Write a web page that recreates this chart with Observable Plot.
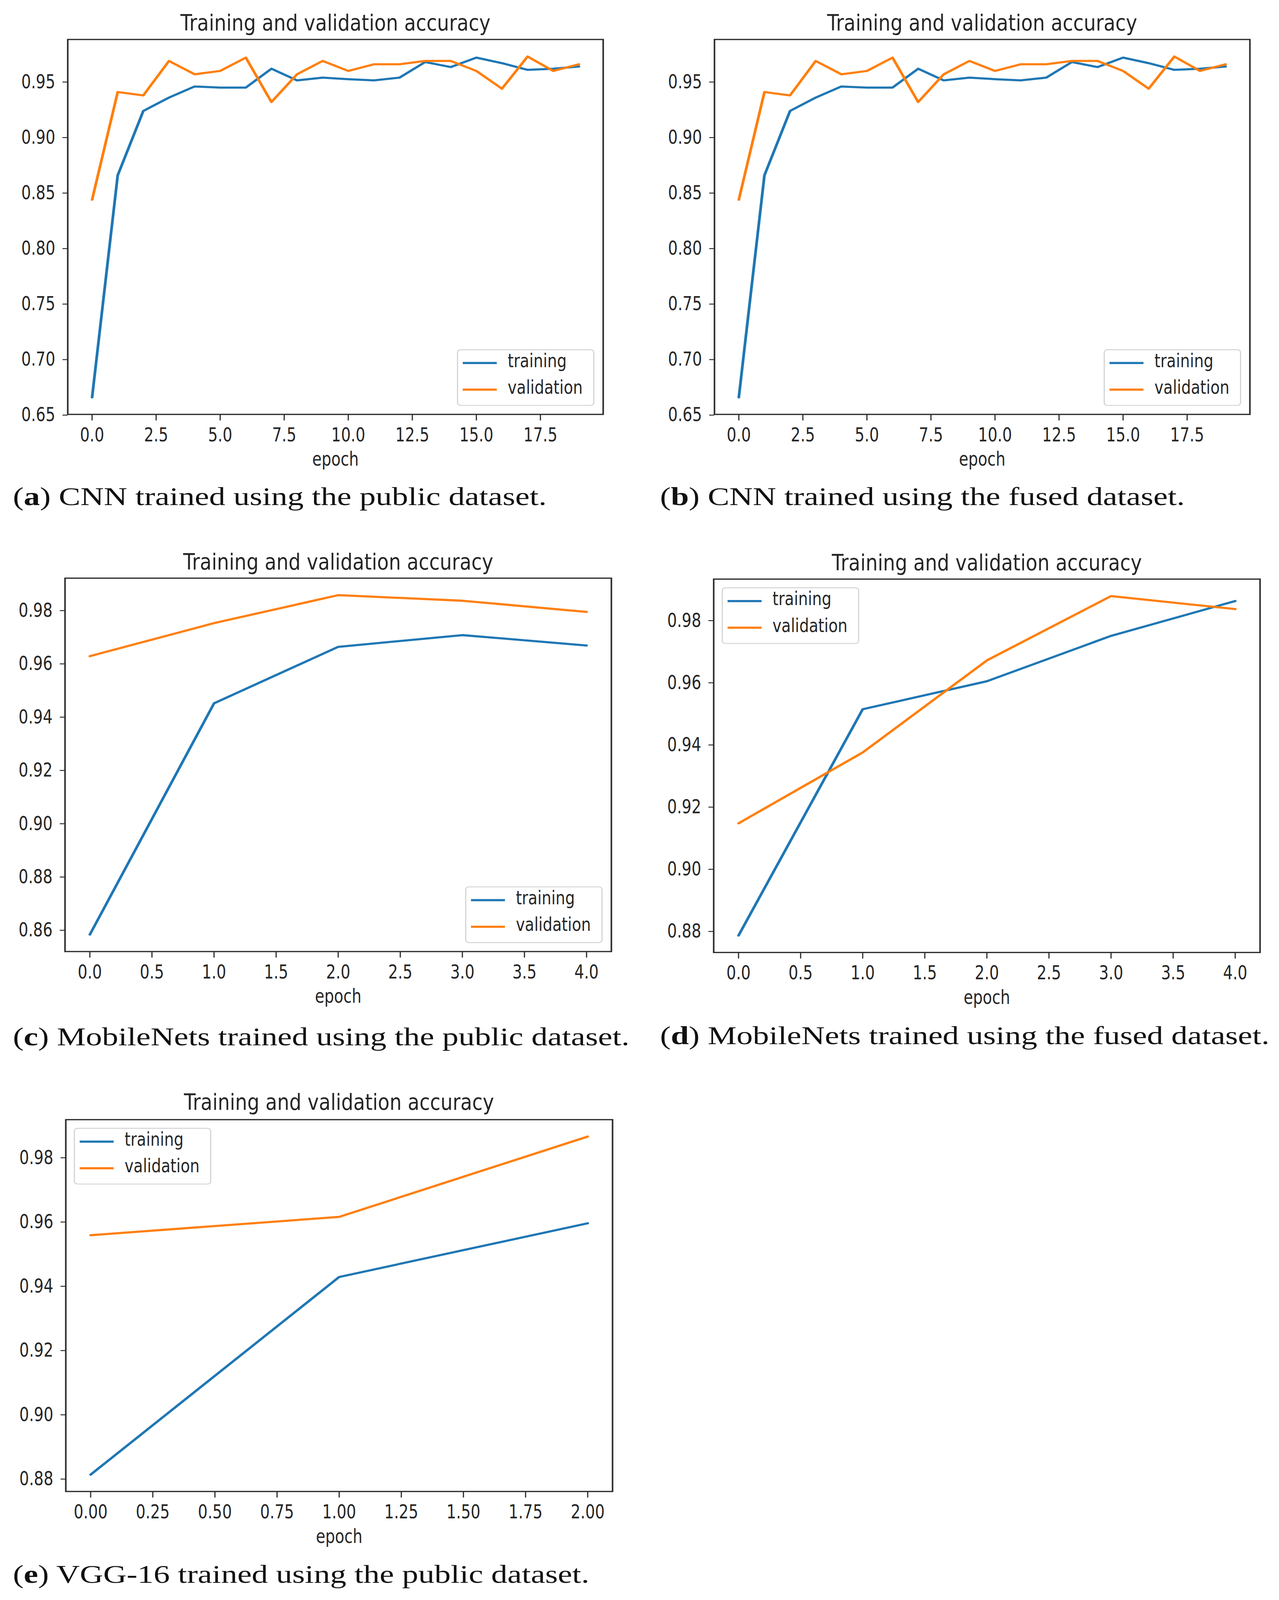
<!DOCTYPE html>
<html>
<head>
<meta charset="utf-8">
<script src="https://cdn.jsdelivr.net/npm/d3@7"></script>
<script src="https://cdn.jsdelivr.net/npm/@observablehq/plot@0.6"></script>
<style>
  html, body { margin: 0; padding: 0; background: #fff; overflow: hidden; }
  #page { position: relative; width: 3275px; height: 5168px; overflow: hidden; background: #fff; transform-origin: 0 0; }
  .title { position: absolute; white-space: nowrap; font-family: "DejaVu Sans", sans-serif; font-size: 72px; line-height: 1.3; color: #262626; transform: translateX(-50%) scaleX(0.68); }
  .caption { position: absolute; white-space: nowrap; font-family: "Liberation Serif", "DejaVu Serif", serif; font-size: 83px; line-height: 1.3; color: #111; }
  .legend { position: absolute; box-sizing: border-box; border: 3px solid #d4d4d4; border-radius: 10px; background: rgba(255,255,255,0.85); }
  .legend .sw { position: absolute; left: 12px; width: 87px; height: 7px; }
  .legend .lab { position: absolute; left: 127px; white-space: nowrap; font-family: "DejaVu Sans", sans-serif; font-size: 60px; line-height: 1.3; color: #262626; transform: scaleX(0.65); transform-origin: left center; }
  #page > svg { position: absolute; }
</style>
</head>
<body>
<div id="page"></div>
<script>
// ---------- data ----------
const seriesNames = ["training", "validation"];
const seriesColors = ["#1f77b4", "#ff7f0e"];
const titleText = "Training and validation accuracy";
const xLabel = "epoch";

// (a) CNN, public dataset
const trainA = [0.666, 0.866, 0.924, 0.936, 0.946, 0.945, 0.945, 0.962, 0.9515, 0.954, 0.9526, 0.9515, 0.954, 0.968, 0.9635, 0.972, 0.967, 0.961, 0.962, 0.964];
const valA   = [0.844, 0.941, 0.938, 0.969, 0.957, 0.960, 0.972, 0.932, 0.957, 0.969, 0.960, 0.966, 0.966, 0.969, 0.969, 0.960, 0.944, 0.973, 0.960, 0.966];
// (b) CNN, fused dataset
const trainB = [0.666, 0.866, 0.924, 0.936, 0.946, 0.945, 0.945, 0.962, 0.9515, 0.954, 0.9526, 0.9515, 0.954, 0.968, 0.9635, 0.972, 0.967, 0.961, 0.962, 0.964];
const valB   = [0.844, 0.941, 0.938, 0.969, 0.957, 0.960, 0.972, 0.932, 0.957, 0.969, 0.960, 0.966, 0.966, 0.969, 0.969, 0.960, 0.944, 0.973, 0.960, 0.966];
// (c) MobileNets, public dataset
const trainC = [0.8584, 0.9452, 0.9664, 0.9708, 0.9669];
const valC   = [0.9629, 0.9753, 0.9858, 0.9837, 0.9795];
// (d) MobileNets, fused dataset
const trainD = [0.8787, 0.9515, 0.9605, 0.9751, 0.9863];
const valD   = [0.9148, 0.9376, 0.9672, 0.9879, 0.9837];
// (e) VGG-16, public dataset
const trainE = [0.8814, 0.9429, 0.9596];
const valE   = [0.9559, 0.9616, 0.9866];

// tick values
const xTicks20 = [0, 2.5, 5, 7.5, 10, 12.5, 15, 17.5];
const yTicksAB = [0.65, 0.70, 0.75, 0.80, 0.85, 0.90, 0.95];
const xTicks5  = [0, 0.5, 1, 1.5, 2, 2.5, 3, 3.5, 4];
const yTicksC  = [0.86, 0.88, 0.90, 0.92, 0.94, 0.96, 0.98];
const yTicksD  = [0.88, 0.90, 0.92, 0.94, 0.96, 0.98];
const xTicks3  = [0, 0.25, 0.5, 0.75, 1, 1.25, 1.5, 1.75, 2];
const yTicksE  = [0.88, 0.90, 0.92, 0.94, 0.96, 0.98];

// captions
const captionLetters = ["a", "b", "c", "d", "e"];
const captionTexts = [
  " CNN trained using the public dataset.",
  " CNN trained using the fused dataset.",
  " MobileNets trained using the public dataset.",
  " MobileNets trained using the fused dataset.",
  " VGG-16 trained using the public dataset."
];

// ---------- layout (styling only) ----------
const PAGE_W = 3275, PAGE_H = 5168;
const panels = [
  {train: trainA, val: valA, xTicks: xTicks20, xFmt: ".1f", yTicks: yTicksAB, frame: [173, 127, 1544, 1338], titleBase: 100, legend: "br", capLeft: 33, capBase: 1632},
  {train: trainB, val: valB, xTicks: xTicks20, xFmt: ".1f", yTicks: yTicksAB, frame: [1829, 127, 3200, 1338], titleBase: 100, legend: "br", capLeft: 1690, capBase: 1632},
  {train: trainC, val: valC, xTicks: xTicks5, xFmt: ".1f", yTicks: yTicksC, frame: [166, 1867, 1565, 3073], titleBase: 1840, legend: "br", capLeft: 33, capBase: 3377},
  {train: trainD, val: valD, xTicks: xTicks5, xFmt: ".1f", yTicks: yTicksD, frame: [1827, 1870, 3226, 3076], titleBase: 1843, legend: "tl", capLeft: 1690, capBase: 3373},
  {train: trainE, val: valE, xTicks: xTicks3, xFmt: ".2f", yTicks: yTicksE, frame: [168, 3616, 1568, 4817], titleBase: 3586, legend: "tl", capLeft: 33, capBase: 5113}
];

const ML = 170, MR = 40, MT = 20, MB = 200;
const TEXT_SQUEEZE = 0.63;
const page = document.getElementById("page");
const SVGNS = "http://www.w3.org/2000/svg";

// horizontally condense each text around its own anchor point
function squeezeSvgText(svg, s) {
  const texts = Array.from(svg.querySelectorAll("text"));
  const info = texts.map(t => {
    const bb = t.getBoundingClientRect();
    const anchor = getComputedStyle(t).textAnchor;
    const sx = anchor === "end" ? bb.right : anchor === "middle" ? (bb.left + bb.right) / 2 : bb.left;
    return {t, sx, sy: (bb.top + bb.bottom) / 2};
  });
  info.forEach(({t, sx, sy}) => {
    const parent = t.parentNode;
    const ctm = parent.getScreenCTM();
    if (!ctm) return;
    const pt = svg.createSVGPoint();
    pt.x = sx; pt.y = sy;
    const lp = pt.matrixTransform(ctm.inverse());
    const g = document.createElementNS(SVGNS, "g");
    g.setAttribute("transform", `translate(${lp.x},0) scale(${s},1) translate(${-lp.x},0)`);
    parent.insertBefore(g, t);
    g.appendChild(t);
  });
}

panels.forEach((p, idx) => {
  const [L, T, R, B] = p.frame;
  const W = R - L, H = B - T;
  const n = p.train.length;
  const rows = [];
  p.train.forEach((v, i) => rows.push({epoch: i, acc: v, series: seriesNames[0]}));
  p.val.forEach((v, i) => rows.push({epoch: i, acc: v, series: seriesNames[1]}));
  const [lo, hi] = d3.extent(rows, d => d.acc);
  const yPad = 0.05 * (hi - lo);
  const xPad = 0.05 * (n - 1);

  const svg = Plot.plot({
    width: W + ML + MR,
    height: H + MT + MB,
    marginLeft: ML, marginRight: MR, marginTop: MT, marginBottom: MB,
    style: {fontFamily: "DejaVu Sans, sans-serif", fontSize: "62px", color: "#262626", background: "transparent", overflow: "visible"},
    x: {domain: [-xPad, n - 1 + xPad], ticks: p.xTicks, tickFormat: d3.format(p.xFmt), tickSize: 20, tickPadding: 23, label: null},
    y: {domain: [lo - yPad, hi + yPad], ticks: p.yTicks, tickFormat: d3.format(".2f"), tickSize: 13, tickPadding: 19, label: null},
    color: {domain: seriesNames, range: seriesColors},
    marks: [
      Plot.line(rows, {x: "epoch", y: "acc", z: "series", stroke: "series", strokeWidth: 7}),
      Plot.frame({stroke: "#2b2b2b", strokeWidth: 4}),
      Plot.text([xLabel], {frameAnchor: "bottom", dy: 146, text: d => d, lineAnchor: "middle", fontSize: 62, fill: "#262626"})
    ]
  });
  svg.style.left = (L - ML) + "px";
  svg.style.top = (T - MT) + "px";
  page.appendChild(svg);
  svg.querySelectorAll('g[aria-label*="axis"] path, g[aria-label*="axis"] line').forEach(e => {
    e.setAttribute("stroke-width", 3);
    e.setAttribute("stroke", "#2b2b2b");
  });
  squeezeSvgText(svg, TEXT_SQUEEZE);

  // title
  const t = document.createElement("div");
  t.className = "title";
  t.textContent = titleText;
  t.style.left = ((L + R) / 2) + "px";
  t.style.top = (p.titleBase - 72) + "px";
  page.appendChild(t);

  // legend
  const lw = 352, lh = 183;
  const lg = document.createElement("div");
  lg.className = "legend";
  lg.style.width = lw + "px";
  lg.style.height = lh + "px";
  if (p.legend === "br") {
    lg.style.left = (R - 22 - lw) + "px";
    lg.style.top = (B - 27 - lh) + "px";
  } else {
    lg.style.left = (L + 21) + "px";
    lg.style.top = (T + 27) + "px";
  }
  seriesNames.forEach((name, i) => {
    const cy = 44 + i * 86;
    const sw = document.createElement("div");
    sw.className = "sw";
    sw.style.top = (cy - 3 - 3.5) + "px";
    sw.style.background = seriesColors[i];
    lg.appendChild(sw);
    const lab = document.createElement("div");
    lab.className = "lab";
    lab.textContent = name;
    lab.style.top = (cy - 3 - 46) + "px";
    lg.appendChild(lab);
  });
  page.appendChild(lg);

  // caption
  const c = document.createElement("div");
  c.className = "caption";
  c.innerHTML = "(<b>" + captionLetters[idx] + "</b>)" + captionTexts[idx];
  c.style.left = p.capLeft + "px";
  c.style.top = (p.capBase - 82) + "px";
  page.appendChild(c);
});

// the browser viewport may be shorter than the 5168px figure: fit the whole figure into it
const fitY = Math.min(1, window.innerHeight / PAGE_H);
const fitX = Math.min(1, window.innerWidth / PAGE_W);
if (fitY < 1 || fitX < 1) {
  page.style.transform = `scale(${fitX}, ${fitY})`;
  document.body.style.height = window.innerHeight + "px";
  document.documentElement.style.height = window.innerHeight + "px";
}
</script>
</body>
</html>
